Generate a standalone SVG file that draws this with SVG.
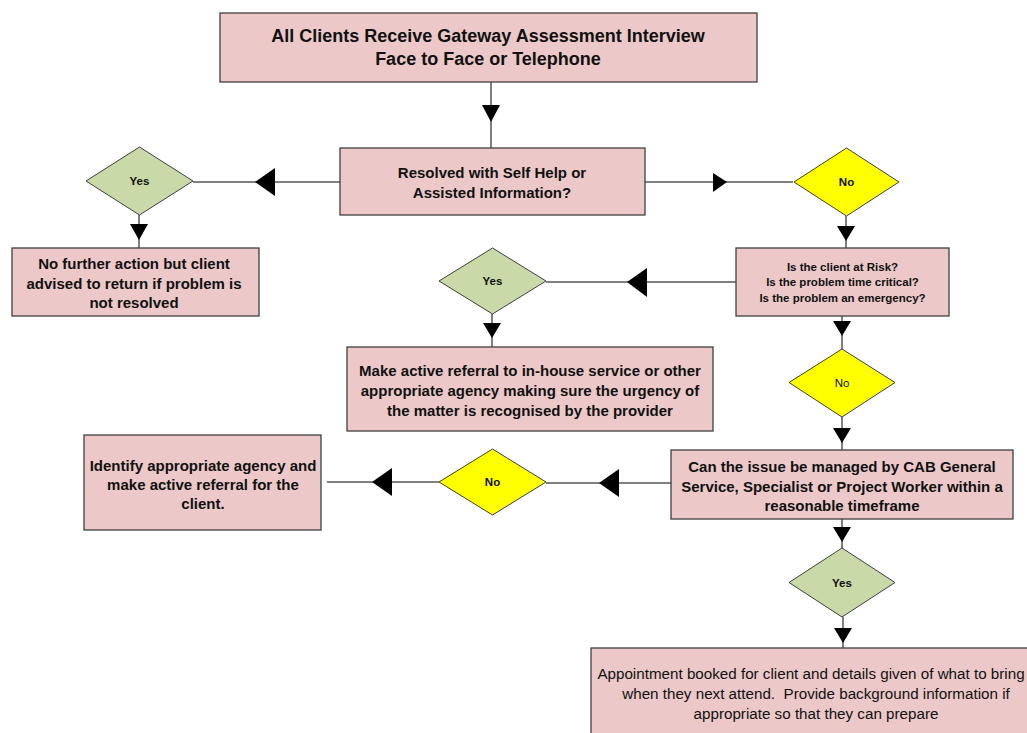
<svg xmlns="http://www.w3.org/2000/svg" width="1027" height="733" viewBox="0 0 1027 733">
<style>
.box{fill:#ecc9c8;stroke:#3f3f3f;stroke-width:1.3}
.yes{fill:#c9d9a7;stroke:#3f3f3f;stroke-width:1}
.no{fill:#ffff00;stroke:#3f3f3f;stroke-width:1}
.ln{stroke:#000;stroke-width:1;fill:none}
.ah{fill:#000;stroke:none}
text{font-family:"Liberation Sans",Arial,sans-serif;fill:#111;text-anchor:middle;dominant-baseline:central}
.b16{font-size:18px;font-weight:bold}
.b14{font-size:15px;font-weight:bold}
.b13{font-size:15px;font-weight:bold}
.b11{font-size:11.5px;font-weight:bold}
.r11{font-size:11.5px}
.r14{font-size:15.2px}
</style>
<rect width="1027" height="733" fill="#fff"/>
<g id="connectors">
<line class="ln" x1="491" y1="82" x2="491" y2="148"/>
<polygon class="ah" points="482,105 500,105 491,122"/>
<line class="ln" x1="340" y1="182" x2="193" y2="182"/>
<polygon class="ah" points="255,182 275,168 275,196"/>
<line class="ln" x1="139" y1="215" x2="139" y2="248"/>
<polygon class="ah" points="130,224 148,224 139,240"/>
<line class="ln" x1="645" y1="182" x2="793" y2="182"/>
<polygon class="ah" points="713,173 713,192 727,182"/>
<line class="ln" x1="846" y1="216" x2="846" y2="248"/>
<polygon class="ah" points="837,226 855,226 846,241"/>
<line class="ln" x1="736" y1="282" x2="546" y2="282"/>
<polygon class="ah" points="627,282 647,268 647,297"/>
<line class="ln" x1="492" y1="314" x2="492" y2="347"/>
<polygon class="ah" points="483,323 501,323 492,338"/>
<line class="ln" x1="842" y1="316" x2="842" y2="349"/>
<polygon class="ah" points="833,321 851,321 842,336"/>
<line class="ln" x1="842" y1="417" x2="842" y2="450"/>
<polygon class="ah" points="833,428 851,428 842,443"/>
<line class="ln" x1="671" y1="483" x2="546" y2="483"/>
<polygon class="ah" points="599,483 619,469 619,497"/>
<line class="ln" x1="439" y1="482" x2="327" y2="482"/>
<polygon class="ah" points="372,482 392,468 392,496"/>
<line class="ln" x1="842" y1="519" x2="842" y2="548"/>
<polygon class="ah" points="833,527 851,527 842,542"/>
<line class="ln" x1="843" y1="617" x2="843" y2="648"/>
<polygon class="ah" points="834,628 852,628 843,643"/>
</g>
<g id="start">
<rect class="box" x="220" y="13" width="537" height="69"/>
<text class="b16" x="488" y="36">All Clients Receive Gateway Assessment Interview</text>
<text class="b16" x="488" y="59">Face to Face or Telephone</text>
</g>
<g id="resolved">
<rect class="box" x="340" y="148" width="305" height="67"/>
<text class="b13" x="492" y="172">Resolved with Self Help or</text>
<text class="b13" x="492" y="192">Assisted Information?</text>
</g>
<g id="yes1">
<polygon class="yes" points="86,181 139.5,147 193,181 139.5,215"/>
<text class="b11" x="139.5" y="181">Yes</text>
</g>
<g id="nofurther">
<rect class="box" x="12" y="248" width="247" height="68"/>
<text class="b14" x="134" y="263">No further action but client</text>
<text class="b14" x="134" y="283">advised to return if problem is</text>
<text class="b14" x="134" y="302">not resolved</text>
</g>
<g id="no1">
<polygon class="no" points="794,182 846.5,148 899,182 846.5,216"/>
<text class="b11" x="846.5" y="182">No</text>
</g>
<g id="risk">
<rect class="box" x="736" y="248" width="213" height="68"/>
<text class="b11" x="842.5" y="267">Is the client at Risk?</text>
<text class="b11" x="842.5" y="282">Is the problem time critical?</text>
<text class="b11" x="842.5" y="298">Is the problem an emergency?</text>
</g>
<g id="yes2">
<polygon class="yes" points="439,281 492.5,248 546,281 492.5,314"/>
<text class="b11" x="492.5" y="281">Yes</text>
</g>
<g id="referral">
<rect class="box" x="347" y="347" width="366" height="84"/>
<text class="b14" x="530" y="370">Make active referral to in-house service or other</text>
<text class="b14" x="530" y="390">appropriate agency making sure the urgency of</text>
<text class="b14" x="530" y="410">the matter is recognised by the provider</text>
</g>
<g id="no2">
<polygon class="no" points="789,382.5 842,349 895,382.5 842,417"/>
<text class="r11" x="842" y="382.5">No</text>
</g>
<g id="canissue">
<rect class="box" x="671" y="450" width="342" height="69"/>
<text class="b14" x="842" y="466">Can the issue be managed by CAB General</text>
<text class="b14" x="842" y="486">Service, Specialist or Project Worker within a</text>
<text class="b14" x="842" y="505">reasonable timeframe</text>
</g>
<g id="no3">
<polygon class="no" points="439,482 492.5,449 546,482 492.5,515"/>
<text class="b11" x="492.5" y="482">No</text>
</g>
<g id="identify">
<rect class="box" x="84" y="435" width="237" height="95"/>
<text class="b14" x="203" y="465">Identify appropriate agency and</text>
<text class="b14" x="203" y="484">make active referral for the</text>
<text class="b14" x="203" y="503">client.</text>
</g>
<g id="yes3">
<polygon class="yes" points="789,582.5 842,548 895,582.5 842,617"/>
<text class="b11" x="842" y="582.5">Yes</text>
</g>
<g id="appointment">
<rect class="box" x="591" y="648" width="452" height="95"/>
<text class="r14" x="811" y="673">Appointment booked for client and details given of what to bring</text>
<text class="r14" x="816" y="693" xml:space="preserve">when they next attend.  Provide background information if</text>
<text class="r14" x="816" y="713">appropriate so that they can prepare</text>
</g>
</svg>
